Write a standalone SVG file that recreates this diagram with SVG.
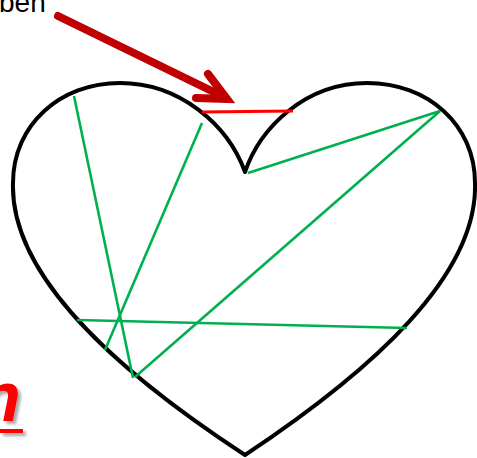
<svg xmlns="http://www.w3.org/2000/svg" width="477" height="458" viewBox="0 0 477 458">
<style>
.heart{fill:none;stroke:#000;stroke-width:4;stroke-linejoin:round}
.g{stroke:#00B050;stroke-width:2.6;stroke-linecap:butt;fill:none}
.r{stroke:#FF0000;stroke-width:3;fill:none}
.arrow{stroke:#C00000;stroke-width:8;fill:none;stroke-linecap:round}
</style>
<defs>
<filter id="sh" x="-50%" y="-50%" width="200%" height="200%">
<feDropShadow dx="3" dy="3" stdDeviation="1.5" flood-color="#000" flood-opacity="0.35"/>
</filter>
</defs>
<rect width="477" height="458" fill="#fff"/>
<g id="label-top">
<text x="-1" y="12" font-family="Liberation Sans, Arial, sans-serif" font-size="28" fill="#000">ben</text>
</g>
<g id="label-bottom" filter="url(#sh)">
<text x="-22" y="421" font-family="Liberation Sans, Arial, sans-serif" font-size="70" font-weight="bold" font-style="italic" fill="#FF0000">n</text>
<rect x="0" y="429" width="23" height="4" fill="#FF0000"/>
</g>
<g id="heart">
<path class="heart" d="M245,172 C228,125 180,83 120,83 C60,83 13,125 13,183 C10,275 115,370 245,455 C373,370 478,275 475,183 C475,125 428,83 367,83 C305,83 260,128 245,172 Z"/>
</g>
<g id="connectors">
<line class="r" x1="202" y1="112" x2="293" y2="111"/>
<line class="g" x1="74" y1="96" x2="133" y2="378"/>
<line class="g" x1="202" y1="123" x2="105" y2="350"/>
<line class="g" x1="248" y1="173" x2="440" y2="111"/>
<line class="g" x1="440" y1="111" x2="135" y2="377"/>
<line class="g" x1="77" y1="320" x2="407" y2="328"/>
</g>
<g id="arrow">
<line class="arrow" x1="58" y1="16" x2="222" y2="96"/>
<polyline class="arrow" points="208,74 227,99 196,98" stroke-linejoin="miter"/>
</g>
</svg>
